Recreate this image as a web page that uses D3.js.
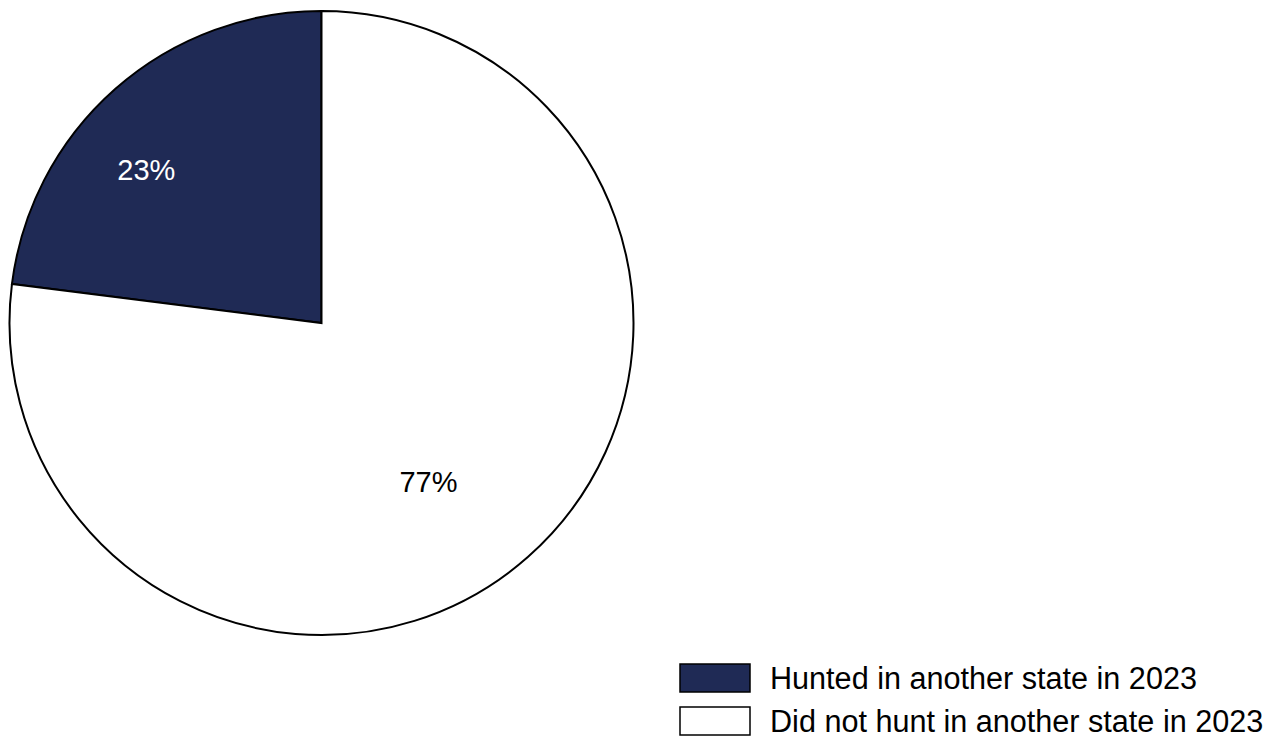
<!DOCTYPE html>
<html>
<head>
<meta charset="utf-8">
<script src="https://cdn.jsdelivr.net/npm/d3@7"></script>
<style>
  html, body { margin: 0; padding: 0; background: #ffffff; }
  svg { display: block; }
  text { font-family: "Liberation Sans", Arial, sans-serif; }
</style>
</head>
<body>
<svg id="chart" width="1276" height="738"></svg>
<script>
const categories = ["Hunted in another state in 2023", "Did not hunt in another state in 2023"];
const values = [23, 77];
const labels = ["23%", "77%"];
const colors = ["#1f2a55", "#ffffff"];

const svg = d3.select("#chart");
const cx = 321.5, cy = 323, r = 312;

const pie = d3.pie().sort(null).value(d => d.value)
  .startAngle(0).endAngle(-2 * Math.PI);
const data = categories.map((c, i) => ({ cat: c, value: values[i], label: labels[i], color: colors[i] }));
const arcs = pie(data);

const arc = d3.arc().innerRadius(0).outerRadius(r);
const g = svg.append("g").attr("transform", `translate(${cx},${cy})`);

g.selectAll("path.slice").data(arcs).join("path")
  .attr("class", "slice")
  .attr("d", arc)
  .attr("fill", d => d.data.color)
  .attr("stroke", "#000")
  .attr("stroke-width", 2)
  .attr("stroke-linejoin", "miter");

// labels
const labelRadiusFrac = [0.745, 0.615];
const angleShift = 7.5 * Math.PI / 180;
g.selectAll("text.lbl").data(arcs).join("text")
  .attr("class", "lbl")
  .attr("x", (d, i) => {
    const a = (d.startAngle + d.endAngle) / 2 + angleShift * (i === 0 ? -1 : 1);
    return Math.sin(a) * r * labelRadiusFrac[i];
  })
  .attr("y", (d, i) => {
    const a = (d.startAngle + d.endAngle) / 2 + angleShift * (i === 0 ? -1 : 1);
    return -Math.cos(a) * r * labelRadiusFrac[i];
  })
  .attr("text-anchor", "middle")
  .attr("dy", "0.35em")
  .attr("font-size", 29)
  .attr("fill", (d, i) => i === 0 ? "#ffffff" : "#000000")
  .text(d => d.data.label);

// legend
const legY = d3.scaleBand().domain(categories).range([664, 750]).paddingInner(0).paddingOuter(0);
const leg = svg.append("g");
const items = leg.selectAll("g").data(data).join("g")
  .attr("transform", d => `translate(680,${legY(d.cat)})`);
items.append("rect")
  .attr("x", 0).attr("y", 0)
  .attr("width", 70).attr("height", 28)
  .attr("fill", d => d.color)
  .attr("stroke", "#000").attr("stroke-width", 1.5);
items.append("text")
  .attr("x", 90).attr("y", 14)
  .attr("dy", "0.35em")
  .attr("font-size", 30.6)
  .attr("fill", "#000")
  .text(d => d.cat);
</script>
</body>
</html>
